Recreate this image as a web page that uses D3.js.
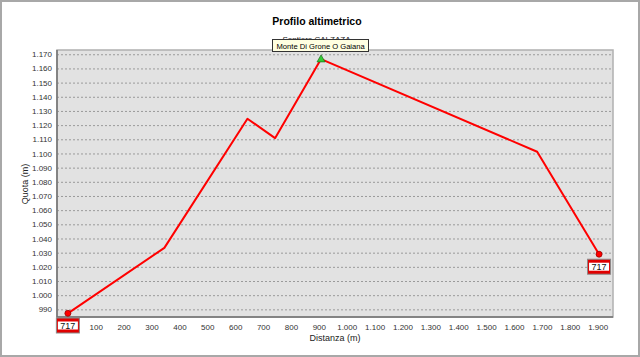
<!DOCTYPE html>
<html>
<head>
<meta charset="utf-8">
<script src="https://cdn.jsdelivr.net/npm/d3@7"></script>
<style>
  body { margin: 0; background: #fff; }
  svg { display: block; font-family: "Liberation Sans", Arial, sans-serif; }
</style>
</head>
<body>
<div id="chart"></div>
<script>
// profile points: distance (m) and altitude (m)
var distances = [0, 346, 644, 743, 908, 1683, 1905];
var altitudes = [987.2, 1033.4, 1124.5, 1110.8, 1166.6, 1101.2, 1028.9];
var yTicks = [990, 1000, 1010, 1020, 1030, 1040, 1050, 1060, 1070, 1080, 1090, 1100, 1110, 1120, 1130, 1140, 1150, 1160, 1170];
var xTicks = [100, 200, 300, 400, 500, 600, 700, 800, 900, 1000, 1100, 1200, 1300, 1400, 1500, 1600, 1700, 1800, 1900];
var peakName = 'Monte Di Grone O Gaiana';
var trailName = 'Sentiero CALZAZA';
var trailCode = '717';

var W = 640, H = 357;
var margin = {top: 50, right: 27, bottom: 40, left: 57};
var width = W - margin.left - margin.right,
    height = H - margin.top - margin.bottom;

var it = d3.formatLocale({decimal: ',', thousands: '.', grouping: [3], currency: ['', '€']});
var fmt = it.format(',d');

var svg = d3.select('#chart').append('svg')
    .attr('width', W)
    .attr('height', H);

// outer frame
svg.append('rect')
    .attr('x', 1).attr('y', 1)
    .attr('width', W - 2).attr('height', H - 2)
    .attr('fill', '#fff')
    .attr('stroke', '#a8a8a8')
    .attr('stroke-width', 2);

svg.append('text')
    .attr('x', 317).attr('y', 25)
    .attr('text-anchor', 'middle')
    .style('font-size', '10.5px')
    .style('font-weight', 'bold')
    .text('Profilo altimetrico');

svg.append('text')
    .attr('x', 316.5).attr('y', 42)
    .attr('text-anchor', 'middle')
    .style('font-size', '8px')
    .attr('fill', '#222')
    .text(trailName);

// axis titles
svg.append('text')
    .attr('transform', 'translate(28,184) rotate(-90)')
    .attr('text-anchor', 'middle')
    .style('font-size', '9px')
    .attr('fill', '#222')
    .text('Quota (m)');
svg.append('text')
    .attr('x', 335).attr('y', 341)
    .attr('text-anchor', 'middle')
    .style('font-size', '9px')
    .attr('fill', '#222')
    .text('Distanza (m)');

var g = svg.append('g')
    .attr('transform', 'translate(' + margin.left + ',' + margin.top + ')');

var xScale = d3.scaleLinear().domain([-39, 1955]).range([0, width]);
var yScale = d3.scaleLinear().domain([984.6, 1173]).range([height, 0]);

var data = distances.map(function(d, i) { return [d, altitudes[i]]; });

g.append('rect')
    .attr('width', width).attr('height', height)
    .attr('fill', '#e2e2e2');

// horizontal grid
g.append('g')
    .call(d3.axisLeft(yScale).tickValues(yTicks).tickSize(-width).tickFormat(''))
    .call(function(s) {
      s.select('.domain').remove();
      s.selectAll('line')
        .attr('stroke', '#9a9a9a')
        .attr('stroke-dasharray', '2,2');
    });

// y labels
g.append('g')
    .call(d3.axisLeft(yScale).tickValues(yTicks).tickSize(0).tickPadding(5).tickFormat(fmt))
    .call(function(s) {
      s.select('.domain').remove();
      s.selectAll('text').style('font-size', '8px').attr('fill', '#333').attr('font-family', null);
    });

// x labels
g.append('g')
    .attr('transform', 'translate(0,' + height + ')')
    .call(d3.axisBottom(xScale).tickValues(xTicks).tickSize(0).tickPadding(7).tickFormat(fmt))
    .call(function(s) {
      s.select('.domain').remove();
      s.selectAll('text').style('font-size', '8px').attr('fill', '#333').attr('font-family', null);
    });

// plot border
g.append('rect')
    .attr('width', width).attr('height', height)
    .attr('fill', 'none')
    .attr('stroke', '#b0b0b0')
    .attr('stroke-width', 1.5);
g.append('path')
    .attr('d', 'M0,0V' + height + 'H' + width)
    .attr('fill', 'none')
    .attr('stroke', '#707070')
    .attr('stroke-width', 1.5);

var valueline = d3.line()
    .x(function(d) { return xScale(d[0]); })
    .y(function(d) { return yScale(d[1]); });

g.append('path')
    .datum(data)
    .attr('fill', 'none')
    .attr('stroke', '#ff0000')
    .attr('stroke-width', 2)
    .attr('stroke-linejoin', 'round')
    .attr('d', valueline);

// start and end markers
var ends = [data[0], data[data.length - 1]];
g.selectAll('circle.end')
  .data(ends)
  .enter().append('circle')
    .attr('class', 'end')
    .attr('cx', function(d) { return xScale(d[0]); })
    .attr('cy', function(d) { return yScale(d[1]); })
    .attr('r', 3)
    .attr('fill', '#ff0000')
    .attr('stroke', '#900')
    .attr('stroke-width', 0.8);

// peak marker
var peak = data[d3.maxIndex(data, function(d) { return d[1]; })];
var px = xScale(peak[0]), py = yScale(peak[1]);
g.append('path')
    .attr('d', d3.symbol().type(d3.symbolTriangle).size(28)())
    .attr('transform', 'translate(' + px + ',' + (py + 0.5) + ')')
    .attr('fill', '#33cc33')
    .attr('stroke', '#1a6b1a')
    .attr('stroke-width', 0.7);

// trail code boxes
function codeBox(x, y) {
  var b = g.append('g').attr('transform', 'translate(' + x + ',' + y + ')');
  b.append('rect').attr('x', -11.5).attr('y', 0).attr('width', 23).attr('height', 15)
    .attr('fill', '#e00000').attr('stroke', '#8a8a8a').attr('stroke-width', 1);
  b.append('rect').attr('x', -10).attr('y', 3.5).attr('width', 20).attr('height', 8)
    .attr('fill', '#fff');
  b.append('text').attr('x', 0).attr('y', 10.5)
    .attr('text-anchor', 'middle')
    .style('font-size', '9px')
    .attr('fill', '#111')
    .text(trailCode);
}
codeBox(xScale(data[0][0]), height + 1);
var last = data[data.length - 1];
codeBox(xScale(last[0]), yScale(last[1]) + 5);

// peak tooltip, left edge placed relative to the peak
var tipLeft = Math.round(margin.left + px - 49) + 0.5;
var tip = svg.append('g');
var tipText = tip.append('text')
    .attr('x', tipLeft + 4)
    .attr('y', 48.5)
    .style('font-size', '7.6px')
    .attr('fill', '#000')
    .text(peakName);
var tw = tipText.node().getComputedTextLength();
tip.insert('rect', 'text')
    .attr('x', tipLeft)
    .attr('y', 39.5)
    .attr('width', Math.round(tw) + 8)
    .attr('height', 12)
    .attr('fill', '#ffffe1')
    .attr('stroke', '#333')
    .attr('stroke-width', 1);
</script>
</body>
</html>
